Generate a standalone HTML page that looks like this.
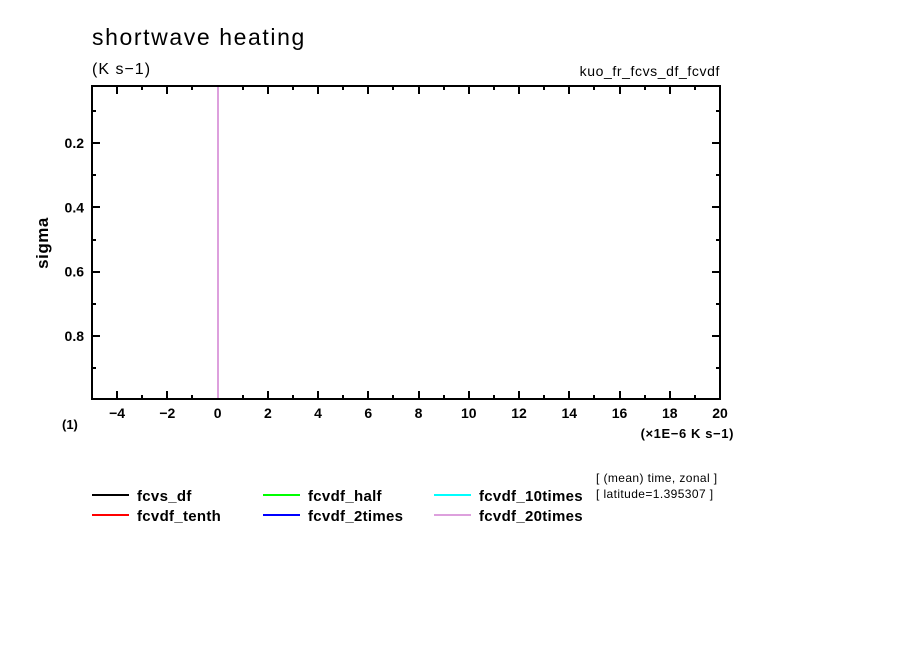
<!DOCTYPE html>
<html><head><meta charset="utf-8"><style>
body{margin:0;background:#fff;width:904px;height:654px;overflow:hidden}
svg{display:block;font-family:"Liberation Sans","DejaVu Sans",sans-serif}
</style></head><body>
<svg id="chart" width="904" height="654" viewBox="0 0 904 654">
<text x="92" y="45" font-size="23" letter-spacing="1.6">shortwave heating</text>
<text x="92" y="74" font-size="16" letter-spacing="1">(K s−1)</text>
<text x="720" y="76" font-size="14" letter-spacing="0.6" text-anchor="end">kuo_fr_fcvs_df_fcvdf</text>
<text x="48" y="243" font-size="17" font-weight="bold" letter-spacing="0.5" text-anchor="middle" transform="rotate(-90 48 243)">sigma</text>
<text x="62" y="429" font-size="13" font-weight="bold">(1)</text>
<text x="734" y="438" font-size="13" font-weight="bold" letter-spacing="0.6" text-anchor="end">(×1E−6 K s−1)</text>
<text x="596" y="482" font-size="12" letter-spacing="0.4">[ (mean) time, zonal ]</text>
<text x="596" y="498" font-size="12" letter-spacing="0.4">[ latitude=1.395307 ]</text>
<g id="axes"></g>
<g id="series"></g>
<rect x="92" y="86" width="628" height="313" fill="none" stroke="#000" stroke-width="2"/>
<g id="legend"></g>
</svg>
<script>
const xTicks=[-4,-2,0,2,4,6,8,10,12,14,16,18,20];
const yTicks=[0.2,0.4,0.6,0.8];
const sigmaLevels=[0.025,0.075,0.125,0.175,0.225,0.275,0.325,0.375,0.425,0.475,0.525,0.575,0.625,0.675,0.725,0.775,0.825,0.875,0.925,0.975,0.995];
const seriesNames=["fcvs_df","fcvdf_tenth","fcvdf_half","fcvdf_2times","fcvdf_10times","fcvdf_20times"];
const seriesColors=["#000000","#ff0000","#00ff00","#0000ff","#00ffff","#dda0dd"];
const fcvs_df=[0,0,0,0,0,0,0,0,0,0,0,0,0,0,0,0,0,0,0,0,0];
const fcvdf_tenth=[0,0,0,0,0,0,0,0,0,0,0,0,0,0,0,0,0,0,0,0,0];
const fcvdf_half=[0,0,0,0,0,0,0,0,0,0,0,0,0,0,0,0,0,0,0,0,0];
const fcvdf_2times=[0,0,0,0,0,0,0,0,0,0,0,0,0,0,0,0,0,0,0,0,0];
const fcvdf_10times=[0,0,0,0,0,0,0,0,0,0,0,0,0,0,0,0,0,0,0,0,0];
const fcvdf_20times=[0,0,0,0,0,0,0,0,0,0,0,0,0,0,0,0,0,0,0,0,0];
const seriesValues=[fcvs_df,fcvdf_tenth,fcvdf_half,fcvdf_2times,fcvdf_10times,fcvdf_20times];
const X0=92,X1=720,Y0=86,Y1=399,XMIN=-5,XMAX=20,YMIN=0.0228,YMAX=0.9958;
const xs=v=>X0+(v-XMIN)/(XMAX-XMIN)*(X1-X0);
const ys=v=>Y0+(v-YMIN)/(YMAX-YMIN)*(Y1-Y0);
const NS="http://www.w3.org/2000/svg";
function mk(tag,attrs,parent){const e=document.createElementNS(NS,tag);for(const k in attrs)e.setAttribute(k,attrs[k]);parent.appendChild(e);return e;}
const axes=document.getElementById('axes');
for(let v=XMIN;v<=XMAX;v++){
  const major=v%2===0, L=major?8:4, x=Math.round(xs(v));
  const t1=mk('line',{x1:x,y1:Y1,x2:x,y2:Y1-L,stroke:'#000','stroke-width':2},axes);
  
  
  const t2=mk('line',{x1:x,y1:Y0,x2:x,y2:Y0+L,stroke:'#000','stroke-width':2},axes);
  
  
}
xTicks.forEach(v=>{
  const t=mk('text',{x:xs(v),y:418,'font-size':14,'font-weight':'bold','text-anchor':'middle'},axes);
  t.textContent=v<0?'−'+Math.abs(v):String(v);
  
  
});
for(let i=1;i<=9;i++){
  const v=i/10, major=i%2===0, L=major?8:4, y=Math.round(ys(v));
  const a=mk('line',{x1:X0,y1:y,x2:X0+L,y2:y,stroke:'#000','stroke-width':2},axes);
  
  
  const b=mk('line',{x1:X1,y1:y,x2:X1-L,y2:y,stroke:'#000','stroke-width':2},axes);
  
  
}
yTicks.forEach(v=>{
  const t=mk('text',{x:84,y:ys(v)+5,'font-size':14,'font-weight':'bold','text-anchor':'end'},axes);
  t.textContent=v.toFixed(1);
  
  
});
const sg=document.getElementById('series');
seriesValues.forEach((vals,i)=>{
  const pts=vals.map((v,j)=>Math.round(xs(v))+','+ys(sigmaLevels[j])).join(' ');
  const p=mk('polyline',{points:pts,fill:'none',stroke:seriesColors[i],'stroke-width':2,'shape-rendering':'crispEdges'},sg);
  
  
});
const lg=document.getElementById('legend');
seriesNames.forEach((n,i)=>{
  const col=Math.floor(i/2),row=i%2;
  const x=92+col*171,y=495+row*20;
  const g=mk('g',{},lg);
  
  
  mk('line',{x1:x,y1:y,x2:x+37,y2:y,stroke:seriesColors[i],'stroke-width':2,'shape-rendering':'crispEdges'},g);
  const t=mk('text',{x:x+45,y:y+6,'font-size':15,'font-weight':'bold','letter-spacing':'0.3'},g);
  t.textContent=n;
});
</script>
</body></html>
